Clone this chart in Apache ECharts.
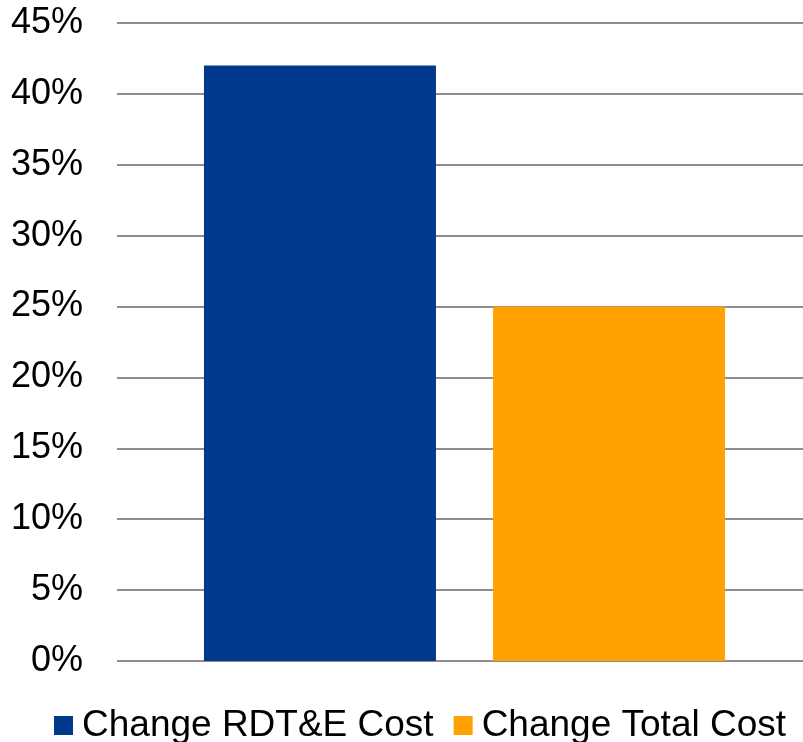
<!DOCTYPE html>
<html><head><meta charset="utf-8">
<script src="https://cdn.jsdelivr.net/npm/echarts@6/dist/echarts.min.js"></script>
<style>html,body{margin:0;padding:0;background:#fff}#c{width:803px;height:742px}</style>
</head><body><div id="c"></div>
<script>
const categories = [''];
const seriesNames = ['Change RDT&E Cost', 'Change Total Cost'];
const rdteValues = [42];
const totalValues = [25];
const yTicks = {min: 0, max: 45, interval: 5};
const colors = ['#00398C', '#FFA100'];

const chart = echarts.init(document.getElementById('c'));
const font = 'Liberation Sans, Arial, sans-serif';
chart.setOption({
  animation: false,
  color: colors,
  grid: {left: 117, top: 23, width: 695, height: 638, containLabel: false, outerBoundsMode: 'none'},
  xAxis: {type: 'category', data: categories, axisLine: {show: false}, axisTick: {show: false}, axisLabel: {show: false}},
  yAxis: {type: 'value', min: yTicks.min, max: yTicks.max, interval: yTicks.interval,
    axisLine: {show: false}, axisTick: {show: false},
    axisLabel: {formatter: '{value}%', color: '#000', fontSize: 36, fontFamily: font, margin: 34},
    splitLine: {lineStyle: {color: '#8e8e8e', width: 2}}},
  legend: {left: 54, top: 707, padding: 0, itemWidth: 19, itemHeight: 19, itemGap: 20, icon: 'rect',
    textStyle: {fontSize: 37, fontFamily: font, color: '#000', padding: [0, 0, 0, 4]},
    data: seriesNames},
  series: [
    {name: seriesNames[0], type: 'bar', data: rdteValues, barWidth: 232, barGap: '24.6%'},
    {name: seriesNames[1], type: 'bar', data: totalValues, barWidth: 232, barGap: '24.6%'}
  ]
});
</script></body></html>
